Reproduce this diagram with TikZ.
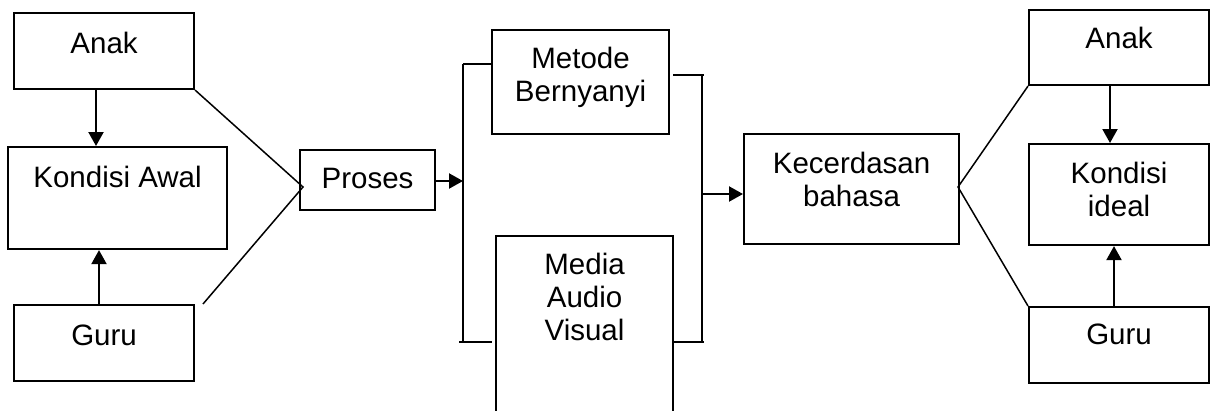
\documentclass[tikz,border=0pt]{standalone}
\usepackage{fontspec}
\setmainfont{Liberation Sans}
\usetikzlibrary{arrows.meta}
\tikzset{
  box/.style={draw=black, line width=2.1pt, rectangle, inner sep=0pt, anchor=north west,
    align=center, font=\fontsize{29.5}{33}\selectfont},
  arr/.style={line width=2.1pt, -{Triangle[length=14pt,width=15pt]}},
  link/.style={line width=1.5pt},
  bar/.style={line width=2.1pt},
}
\begin{document}
\begin{tikzpicture}[x=1pt,y=-1pt]
\useasboundingbox (0,0) rectangle (1210,410);
% left side
\node[box, minimum width=180pt, minimum height=76pt, text height=40pt, text depth=36pt] (anakL) at (13,12) {Anak};
\node[box, minimum width=219pt, minimum height=102pt, text height=40pt, text depth=62pt] (kondA) at (7,146) {Kondisi Awal};
\node[box, minimum width=180pt, minimum height=76pt, text height=40pt, text depth=36pt] (guruL) at (13,304) {Guru};
% process
\node[box, minimum width=135pt, minimum height=60pt, text height=38pt, text depth=22pt] (proses) at (299,149) {Proses};
\node[box, minimum width=177pt, minimum height=104pt, text height=71pt, text depth=33pt] (metode) at (491,29) {Metode\\Bernyanyi};
\node[box, minimum width=177pt, minimum height=178pt, text height=104pt, text depth=74pt] (media) at (495,235) {Media\\Audio\\Visual};
\node[box, minimum width=215pt, minimum height=110pt, text height=72pt, text depth=38pt] (kec) at (743,133) {Kecerdasan\\bahasa};
% right side
\node[box, minimum width=180pt, minimum height=75pt, text height=38pt, text depth=37pt] (anakR) at (1028,9) {Anak};
\node[box, minimum width=180pt, minimum height=101pt, text height=72pt, text depth=29pt] (kondI) at (1028,143) {Kondisi\\ideal};
\node[box, minimum width=180pt, minimum height=76pt, text height=37pt, text depth=39pt] (guruR) at (1028,306) {Guru};
% coordinates
\coordinate (meetL) at (303,187);
\coordinate (guruLtip) at (203,304);
\coordinate (barLt) at (463,64);
\coordinate (barLb) at (463,342);
\coordinate (barLbx) at (459,342);
\coordinate (barLin) at (463,181);
\coordinate (barRt) at (702,75);
\coordinate (barRb) at (702,342);
\coordinate (barRtx) at (704,75);
\coordinate (barRbx) at (704,342);
\coordinate (barRout) at (702,194);
\coordinate (meetR) at (958,187);
% connectors left
\draw[arr] (anakL.south -| 96,0) -- (kondA.north -| 96,0);
\draw[arr] (guruL.north -| 99,0) -- (kondA.south -| 99,0);
\draw[link] (anakL.south east) -- (meetL) -- (guruLtip);
% process bars
\draw[arr] (proses.east |- barLin) -- (barLin);
\draw[bar] (barLt) -- (barLb);
\draw[bar] (barLt) -- (metode.west |- barLt);
\draw[bar] (barLbx) -- ([xshift=-3pt]media.west |- barLb);
\draw[bar] (barRt) -- (barRb);
\draw[bar] ([xshift=3pt]metode.east |- barRt) -- (barRtx);
\draw[bar] (media.east |- barRb) -- (barRbx);
\draw[arr] (barRout) -- (kec.west |- barRout);
% right side
\draw[link] (anakR.south west) -- (meetR) -- (guruR.north west);
\draw[arr] (anakR.south -| 1110,0) -- (kondI.north -| 1110,0);
\draw[arr] (guruR.north -| 1114,0) -- (kondI.south -| 1114,0);
\end{tikzpicture}
\end{document}
